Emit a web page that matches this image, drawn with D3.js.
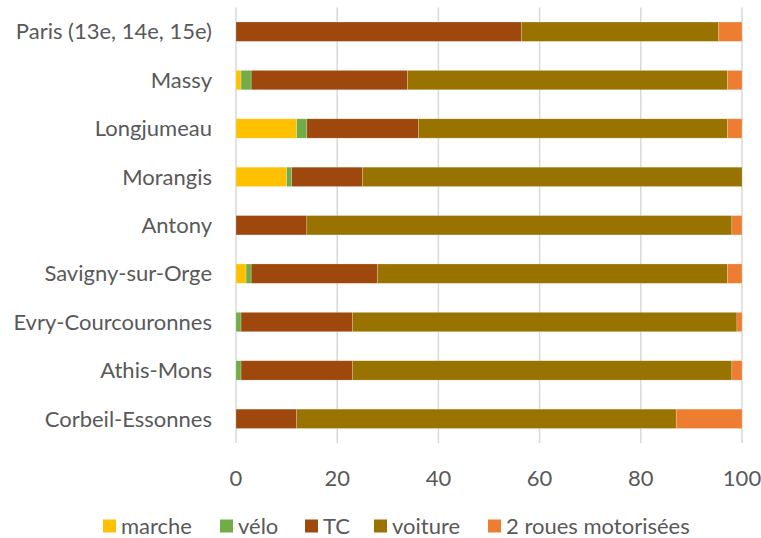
<!DOCTYPE html>
<html>
<head>
<meta charset="utf-8">
<script src="https://cdn.jsdelivr.net/npm/d3@7"></script>
<style>
body { margin: 0; background: #fff; }
</style>
</head>
<body>
<div id="chart"></div>
<script>
var communes = ["Paris (13e, 14e, 15e)", "Massy", "Longjumeau", "Morangis", "Antony",
    "Savigny-sur-Orge", "Evry-Courcouronnes", "Athis-Mons", "Corbeil-Essonnes"];
var modes = ["marche", "vélo", "TC", "voiture", "2 roues motorisées"];
var marche = [0, 1, 12, 10, 0, 2, 0, 0, 0];
var velo = [0, 2, 2, 1, 0, 1, 1, 1, 0];
var tc = [56.4, 30.9, 22.1, 14, 14, 25, 22, 22, 12];
var voiture = [39, 63.2, 61, 75, 84, 69.1, 76, 75, 75];
var deuxRoues = [4.6, 2.9, 2.9, 0, 2, 2.9, 1, 2, 13];
var xTicks = [0, 20, 40, 60, 80, 100];
var colors = ["#FFC000", "#70AD47", "#9E480E", "#997300", "#ED7D31"];

var w = 761, h = 538;
var plotLeft = 236, plotRight = 742, plotTop = 7.5, plotBottom = 443;

var rows = communes.map(function(c, i) {
    return { name: c, marche: marche[i], "vélo": velo[i], TC: tc[i], voiture: voiture[i], "2 roues motorisées": deuxRoues[i] };
});
var series = d3.stack().keys(modes)(rows);

var svg = d3.select("#chart").append("svg")
    .attr("width", w)
    .attr("height", h)
    .style("font-family", "Lato, 'Open Sans', sans-serif");

var x = d3.scaleLinear().domain([0, 100]).range([plotLeft, plotRight]);
var y = d3.scaleBand().domain(communes).range([plotTop, plotBottom]).paddingInner(0.6).paddingOuter(0.3);

// vertical gridlines
svg.append("g").selectAll("line")
    .data(xTicks)
    .enter()
    .append("line")
    .attr("x1", function(d) { return x(d); })
    .attr("x2", function(d) { return x(d); })
    .attr("y1", plotTop)
    .attr("y2", plotBottom)
    .attr("stroke", "#d9d9d9")
    .attr("stroke-width", 1.5);

svg.append("g").selectAll("g")
    .data(series)
    .enter()
    .append("g")
    .attr("fill", function(d, i) { return colors[i]; })
    .selectAll("rect")
    .data(function(d) { return d; })
    .enter()
    .append("rect")
    .attr("x", function(d) { return x(d[0]); })
    .attr("y", function(d) { return y(d.data.name); })
    .attr("width", function(d) { return x(d[1]) - x(d[0]); })
    .attr("height", y.bandwidth())
    .attr("stroke", "#fff")
    .attr("stroke-opacity", 0.35)
    .attr("stroke-width", 0.6);

// category labels
svg.append("g").selectAll("text")
    .data(communes)
    .enter()
    .append("text")
    .attr("x", 212)
    .attr("y", function(d) { return y(d) + y.bandwidth() / 2; })
    .attr("dy", "0.35em")
    .attr("text-anchor", "end")
    .attr("font-size", "22px")
    .attr("fill", "#595959")
    .text(function(d) { return d; });

// x tick labels
svg.append("g").selectAll("text")
    .data(xTicks)
    .enter()
    .append("text")
    .attr("x", function(d) { return x(d); })
    .attr("y", 478)
    .attr("dy", "0.35em")
    .attr("text-anchor", "middle")
    .attr("font-size", "22px")
    .attr("fill", "#595959")
    .text(function(d) { return d; });

// legend
var legendX = [103, 220, 305, 374, 488];
var legend = svg.append("g").selectAll("g")
    .data(modes)
    .enter()
    .append("g")
    .attr("transform", function(d, i) { return "translate(" + legendX[i] + ",526)"; });

legend.append("rect")
    .attr("x", 0)
    .attr("y", -6.5)
    .attr("width", 13)
    .attr("height", 13)
    .attr("fill", function(d, i) { return colors[i]; });

legend.append("text")
    .attr("x", 18)
    .attr("y", 0)
    .attr("dy", "0.35em")
    .attr("font-size", "22px")
    .attr("fill", "#595959")
    .text(function(d) { return d; });
</script>
</body>
</html>
